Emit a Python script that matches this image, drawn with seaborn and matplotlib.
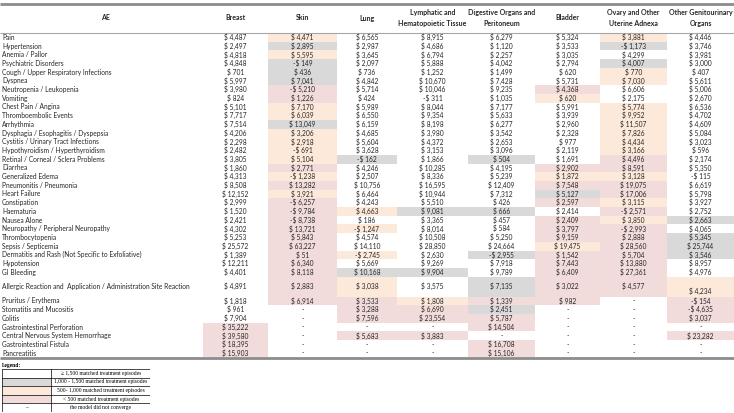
import numpy as np
import seaborn as sns
import matplotlib.pyplot as plt
from matplotlib.colors import ListedColormap

# Row labels (adverse events)
ae = ['Pain', 'Hypertension', 'Anemia / Pallor', 'Psychiatric Disorders',
      'Cough / Upper Respiratory Infections', 'Dyspnea', 'Neutropenia / Leukopenia',
      'Vomiting', 'Chest Pain / Angina', 'Thromboembolic Events', 'Arrhythmia',
      'Dysphagia / Esophagitis / Dyspepsia', 'Cystitis / Urinary Tract Infections',
      'Hypothyroidism / Hyperthyroidism', 'Retinal / Corneal / Sclera Problems',
      'Diarrhea', 'Generalized Edema', 'Pneumonitis / Pneumonia', 'Heart Failure',
      'Constipation', 'Haematuria', 'Nausea Alone', 'Neuropathy / Peripheral Neuropathy',
      'Thrombocytopenia', 'Sepsis / Septicemia',
      'Dermatitis and Rash (Not Specific to Exfoliative)', 'Hypotension', 'GI Bleeding',
      'Allergic Reaction and  Application / Administration Site Reaction',
      'Pruritus / Erythema', 'Stomatitis and Mucositis', 'Colitis',
      'Gastrointestinal Perforation', 'Central Nervous System Hemorrhage',
      'Gastrointestinal Fistula', 'Pancreatitis']

headers = ['Breast', 'Skin', 'Lung', 'Lymphatic and\nHematopoietic Tissue',
           'Digestive Organs and\nPeritoneum', 'Bladder',
           'Ovary and Other\nUterine Adnexa', 'Other Genitourinary\nOrgans']

N = None
breast = [4487, 2497, 4818, 4848, 701, 5997, 3980, 824, 5101, 7717,
          7514, 4206, 2298, 2482, 3805, 1860, 4313, 8508, 12152, 2999,
          1520, 2421, 4302, 5253, 25572, 1389, 12211, 4401, 4891, 1818,
          961, 7904, 35222, 39580, 18395, 15903]
skin = [4471, 2895, 5595, -149, 436, 7041, -5210, 1226, 7170, 6039,
        13049, 3206, 2918, -691, 5104, 2771, -1238, 13282, 3921, -6257,
        -9784, -8738, 13721, 5843, 63227, 51, 6340, 8118, 2883, 6914,
        N, N, N, N, N, N]
lung = [6565, 2987, 3645, 2097, 736, 4842, 5714, 424, 5989, 6550,
        6159, 4685, 5604, 3628, -162, 4246, 2507, 10756, 6464, 4243,
        4663, 186, -1247, 4574, 14110, -2745, 5669, 10168, 3038, 3533,
        3288, 7596, N, 5683, N, N]
lymph = [8915, 4686, 6794, 5888, 1252, 10670, 10046, -311, 8044, 9354,
         8198, 3980, 4372, 3153, 1866, 10285, 8336, 16595, 10944, 5510,
         9081, 3365, 8014, 10508, 28850, 2630, 9269, 9904, 3575, 1808,
         6690, 23554, N, 3883, N, N]
digest = [6279, 1120, 2257, 4042, 1499, 7428, 9235, 1035, 7177, 5633,
          6277, 3542, 2653, 3096, 504, 4195, 5239, 12409, 7312, 426,
          666, 457, 584, 5250, 24664, -2955, 7918, 9789, 7135, 1339,
          2451, 5787, 14504, N, 16708, 15106]
bladder = [5324, 3533, 3035, 2794, 620, 5731, 4368, 620, 5991, 3939,
           2960, 2328, 977, 2119, 1691, 2902, 1872, 7548, 5127, 2597,
           2414, 2409, 3797, 9159, 19475, 1542, 7443, 6409, 3022, 982,
           N, N, N, N, N, N]
ovary = [3881, -1173, 4299, 4007, 770, 7030, 6606, 2175, 5774, 9952,
         11507, 7826, 4434, 3166, 4496, 8591, 3128, 19075, 17006, 3115,
         -2571, 3850, -2993, 2888, 28560, 5704, 13880, 27361, 4577, N,
         N, N, N, N, N, N]
other = [4446, 3746, 3981, 3000, 407, 5611, 5006, 2670, 6536, 4702,
         4609, 5084, 3023, 596, 2174, 5350, -115, 6619, 5798, 3927,
         2752, 2663, 4065, 5345, 25744, 3546, 8957, 4976, 4234, -154,
         -4635, 3037, N, 23282, N, N]

# number of matched treatment episodes per cell
# W >= 1,500   G 1,000-1,500   O 500-1,000   P < 500   - did not converge
breast_n = 'WWWWWWWWWW' + 'WWWWWWWWWW' + 'WWWWWWWWWW' + 'WWPPPP'
skin_n = 'OGOGGGPPOO' + 'GOOOOPOPOP' + 'PPPPPPPPPP' + '------'
lung_n = 'WWWWWWWWWW' + 'WWWWGWWWWW' + 'OWOWWOWGOP' + 'PP-P--'
lymph_n = 'WWWWWWWWWW' + 'WWWWWWWWWW' + 'GWWWWWWGWO' + 'PP-P--'
digest_n = 'WWWWWWWWWW' + 'WWWWGWWWWW' + 'GWWWWGWWGP' + 'GPP-PP'
bladder_n = 'WWWWWWPOWW' + 'WWWWWPOPGP' + 'WPPPOPPPPP' + '------'
ovary_n = 'OGWGOOWWOO' + 'OOOOPPOPPO' + 'POPPPPPPP-' + '------'
other_n = 'WWWWWWWWWW' + 'WWWWWWWWWW' + 'WGWGGGWWOP' + 'PP-P--'

legend_labels = ['\u2265 1,500 matched treatment episodes',
                 '1,000 - 1,500 matched treatment episodes',
                 '500- 1,000 matched treatment episodes',
                 '< 500 matched treatment episodes',
                 'the model did not converge']
legend_codes = 'WGOP-'

values = [breast, skin, lung, lymph, digest, bladder, ovary, other]
counts = [breast_n, skin_n, lung_n, lymph_n, digest_n, bladder_n, ovary_n, other_n]

code_map = {'W': 0, 'G': 1, 'O': 2, 'P': 3, '-': 0}
cmap = ListedColormap(['#ffffff', '#d9d9d9', '#fde9d9', '#f2dcdb'])


def fmt(v):
    if v is None:
        return '-'
    if v < 0:
        return f'-$ {abs(v):,}'
    return f'$ {v:,}'


sns.set_theme(style='white')
plt.rcParams['font.family'] = ['Lato', 'DejaVu Sans']

W, H = 734, 413
fig = plt.figure(figsize=(W / 100, H / 100), dpi=100)

# layout in pixels
col_edges = np.array([203, 268, 337, 397, 468, 535, 600, 667, 734])
col_w = np.diff(col_edges)
row_h = np.full(len(ae), 8.7)
row_h[28] = 20.0
top = 33.0
bottom = top + row_h.sum()
row_c = top + np.cumsum(row_h) - row_h / 2
col_c = (col_edges[:-1] + col_edges[1:]) / 2

# colour grid, repeated so rows / columns get their own sizes
grid = np.array([[code_map[c] for c in col] for col in counts]).T
sub_rows = np.round(row_h / 8.7 * 17).astype(int)
grid = np.repeat(np.repeat(grid, sub_rows, axis=0), col_w, axis=1)

hm_ax = fig.add_axes([col_edges[0] / W, 1 - bottom / H,
                      (col_edges[-1] - col_edges[0]) / W, (bottom - top) / H])
sns.heatmap(grid, ax=hm_ax, cmap=cmap, vmin=-0.5, vmax=3.5, cbar=False,
            xticklabels=False, yticklabels=False)
hm_ax.set_axis_off()

# legend box (cells)
lg_top, lg_bot, lg_l, lg_r = 369, 412, 2, 150
lg_grid = np.array([[code_map[c], 0, 0] for c in legend_codes])
lg_ax = fig.add_axes([lg_l / W, 1 - lg_bot / H, (lg_r - lg_l) / W, (lg_bot - lg_top) / H])
sns.heatmap(lg_grid, ax=lg_ax, cmap=cmap, vmin=-0.5, vmax=3.5, cbar=False,
            xticklabels=False, yticklabels=False)
lg_ax.set_axis_off()
for k in range(6):
    lg_ax.axhline(k, color='black', lw=0.5)
for xk in [0, 1, 3]:
    lg_ax.axvline(xk, color='black', lw=0.5)

# overlay axes in pixel coordinates for the text and rules
ax = fig.add_axes([0, 0, 1, 1])
ax.set_xlim(0, W)
ax.set_ylim(H, 0)
ax.set_axis_off()
ax.patch.set_alpha(0)

txt = '#262626'
ax.text(105, 18, 'AE', ha='center', va='center', fontsize=5, fontweight='bold', color=txt)
for x, h in zip(col_c, headers):
    ax.text(x, 18, h, ha='center', va='center', fontsize=5, fontweight='bold',
            color=txt, linespacing=1.6)

for i, name in enumerate(ae):
    ax.text(2, row_c[i], name, ha='left', va='center', fontsize=4.8, color=txt)
    for j, col in enumerate(values):
        y = row_c[i]
        if i == 28 and j == 7:
            y += 5
        ax.text(col_c[j], y, fmt(col[i]), ha='center', va='center',
                fontsize=4.8, color=txt)

ax.hlines(4, 0, W, color='#8c8c8c', lw=2)
ax.hlines(top - 0.5, 0, W, color='#a6a6a6', lw=0.8)
ax.hlines(bottom + 1, 0, W, color='#8c8c8c', lw=2)

ax.text(2, 365, 'Legend:', ha='left', va='center', fontsize=4,
        family='Liberation Serif', fontweight='bold', color='black')
lg_h = (lg_bot - lg_top) / len(legend_labels)
lg_split = lg_l + (lg_r - lg_l) / 3
for k, lab in enumerate(legend_labels):
    y = lg_top + lg_h * (k + 0.5)
    ax.text((lg_split + lg_r) / 2, y, lab, ha='center', va='center', fontsize=4,
            family='Liberation Serif', color='black')
ax.text((lg_l + lg_split) / 2, lg_top + lg_h * 4.5, '\u2013', ha='center', va='center',
        fontsize=4, family='Liberation Serif', color='black')

plt.savefig('out.png', dpi=100)
